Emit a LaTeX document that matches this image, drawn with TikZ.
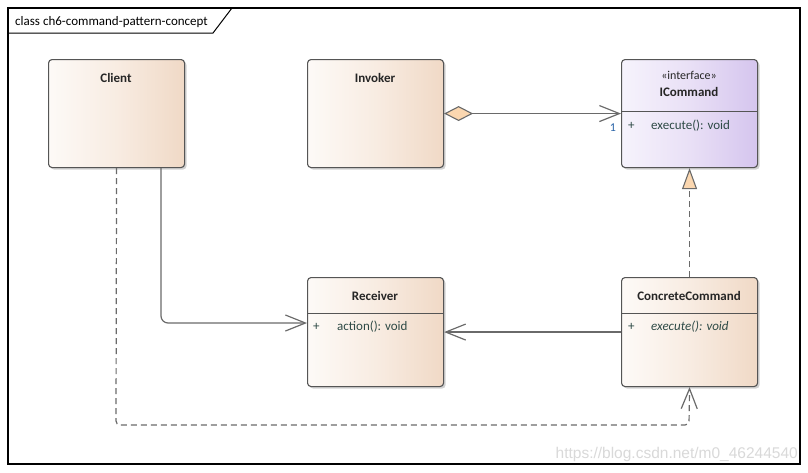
\documentclass[tikz,border=0pt]{standalone}
\usepackage{fontspec}
\setmainfont{Carlito}
\newfontfamily\wmfont{Liberation Sans}
\usetikzlibrary{arrows.meta,shadows}
\definecolor{peachL}{HTML}{FDFAF7}
\definecolor{peachM}{HTML}{F8ECE2}
\definecolor{peachR}{HTML}{F0D9C6}
\definecolor{lilacL}{HTML}{F6F3FC}
\definecolor{lilacM}{HTML}{E9E0F6}
\definecolor{lilacR}{HTML}{D5C5EE}
\definecolor{boxline}{HTML}{555555}
\definecolor{conn}{HTML}{6A6A6A}
\definecolor{opcol}{HTML}{2E4A46}
\definecolor{titlecol}{HTML}{262626}
\definecolor{headfill}{HTML}{FBD7B0}
\definecolor{multcol}{HTML}{2A64A8}
\definecolor{wmcol}{HTML}{D9D9D9}
\tikzset{
  classbox/.style={draw=boxline, line width=1.1pt, rounded corners=3.5pt,
    minimum width=136pt, inner sep=0pt, anchor=north west,
    drop shadow={shadow xshift=2pt, shadow yshift=-2pt, opacity=0.35, fill=gray}},
  peachbox/.style={classbox, left color=peachL, right color=peachR, middle color=peachM},
  lilacbox/.style={classbox, left color=lilacL, right color=lilacR, middle color=lilacM},
  clsname/.style={font=\fontsize{13}{15}\selectfont\bfseries, text=titlecol, inner sep=0pt},
  stereo/.style={font=\fontsize{12}{14}\selectfont, text=titlecol, inner sep=0pt},
  optext/.style={font=\fontsize{13}{15}\selectfont, text=opcol, inner sep=0pt, anchor=base west},
  sepline/.style={draw=boxline, line width=1pt},
  conline/.style={draw=conn, line width=1.2pt},
  dashline/.style={conline, dash pattern=on 6pt off 4pt},
  openarrow/.style={-{Straight Barb[length=20pt,width=16pt,line width=1.2pt]}},
}
\begin{document}
\begin{tikzpicture}[x=1pt,y=-1pt]
\useasboundingbox (0,0) rectangle (808,472);
\fill[white] (0,0) rectangle (808,472);
% frame
\draw[black, line width=1.1pt] (8,8) rectangle (800,464);
\draw[black, line width=1pt] (8,33) -- (213,33) -- (232,8);
\node[font=\fontsize{13}{15}\selectfont, anchor=base west, inner sep=0pt] (frametitle) at (15,25) {class ch6-command-pattern-concept};

% classes
\node[peachbox, minimum height=108pt] (client) at (48,59) {};
\node[peachbox, minimum height=108pt] (invoker) at (307,59) {};
\node[lilacbox, minimum height=108pt] (icmd) at (621,59) {};
\node[peachbox, minimum height=109pt] (receiver) at (307,277) {};
\node[peachbox, minimum height=109pt] (concrete) at (621,277) {};

% texts
\node[clsname] (clientname) at (116,78) {Client};
\node[clsname] (invokername) at (375,78) {Invoker};
\node[stereo] (icmdstereo) at (689,75) {«interface»};
\node[clsname] (icmdname) at (689,92) {ICommand};
\draw[sepline] (621,111) -- (757,111);
\node[optext] (icmdplus) at (628,129) {+};
\node[optext] (icmdop) at (651,129) {execute(): void};

\node[clsname] (receivername) at (375,296) {Receiver};
\draw[sepline] (307,313) -- (443,313);
\node[optext] (recplus) at (313,330) {+};
\node[optext] (recop) at (337,330) {action(): void};

\node[clsname] (concretename) at (689,296) {ConcreteCommand};
\draw[sepline] (621,313) -- (757,313);
\node[optext] (ccplus) at (628,330) {+};
\node[optext] (ccop) at (651,330) {\itshape execute(): void};

% connectors
\draw[conline, {Diamond[length=29pt,width=15pt,fill=headfill,line width=1.1pt]}-{Straight Barb[length=20pt,width=16pt,line width=1.2pt]}] (invoker.east) -- (icmd.west);
\node[font=\fontsize{12}{14}\selectfont, text=multcol, inner sep=0pt] (mult) at (613,128) {1};

\draw[dashline, -{Triangle[length=21pt,width=15pt,fill=headfill,line width=1.1pt,sep=0pt]}] (concrete.north) -- (icmd.south);

\draw[conline, openarrow, rounded corners=7pt] (client.south -| 161,0) -- (161,323) -- (receiver.west |- 0,323);

\draw[conline, openarrow] (concrete.west) -- (receiver.east);

\draw[dashline, openarrow, rounded corners=4pt] (client.south) -- (116,425) -- (689,425) -- (concrete.south);

% watermark
\node[font=\wmfont\fontsize{15.5}{17}\selectfont, text=wmcol, anchor=base east, inner sep=0pt] (wm) at (798,458) {https://blog.csdn.net/m0\_46244540};
\end{tikzpicture}
\end{document}
